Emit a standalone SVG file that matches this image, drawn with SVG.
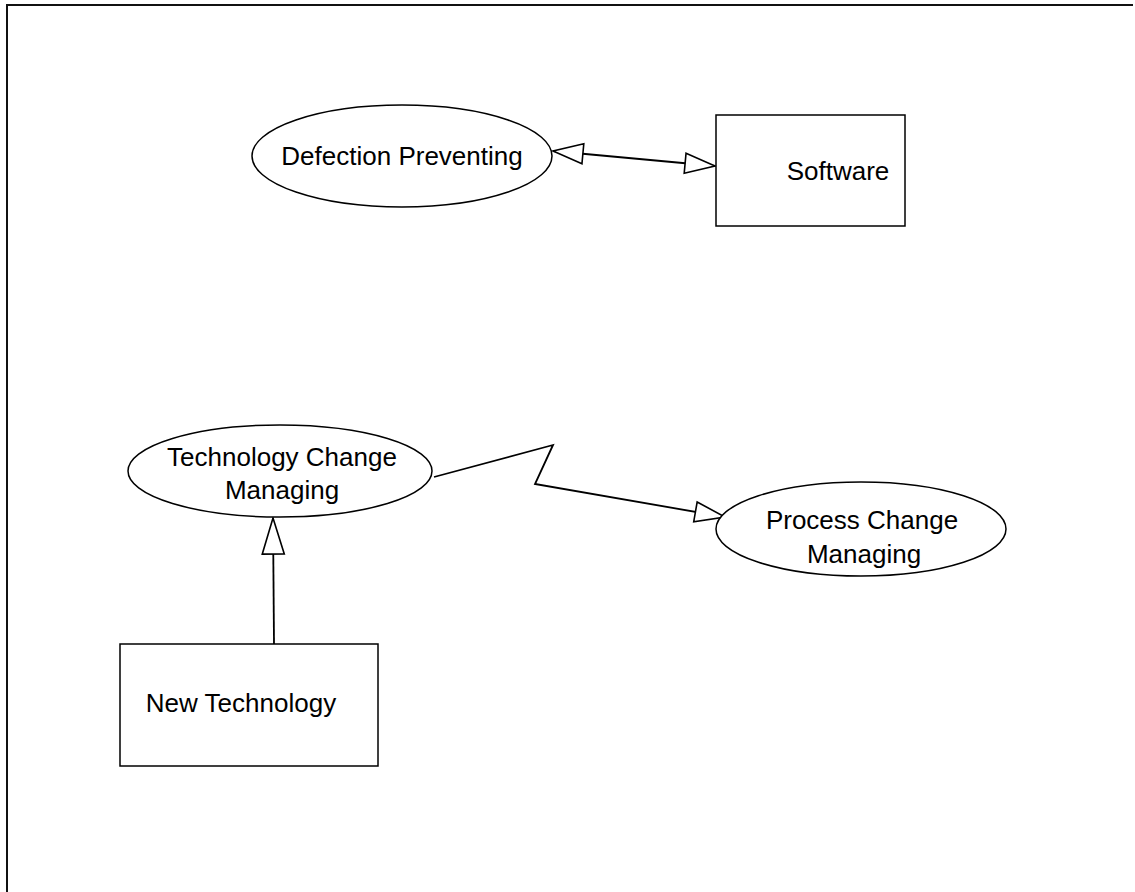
<svg xmlns="http://www.w3.org/2000/svg" width="1135" height="892" viewBox="0 0 1135 892">
<style>
.shape{fill:#fff;stroke:#000;stroke-width:1.5}
.lbl{font-family:"Liberation Sans",Arial,sans-serif;font-size:26px;fill:#000;text-anchor:middle}
.conn{fill:none;stroke:#000;stroke-width:1.8}
.frame{stroke:#111;stroke-width:2;fill:none}
</style>
<defs>
<marker id="tri" viewBox="0 0 32 22" refX="31" refY="11" markerWidth="32" markerHeight="22" markerUnits="userSpaceOnUse" orient="auto-start-reverse" overflow="visible">
<path d="M1,1 L31,11 L1,21 Z" fill="#fff" stroke="#000" stroke-width="1.6"/>
</marker>
<marker id="triTall" viewBox="0 0 38 24" refX="37" refY="12" markerWidth="38" markerHeight="24" markerUnits="userSpaceOnUse" orient="auto" overflow="visible">
<path d="M1,1 L37,12 L1,23 Z" fill="#fff" stroke="#000" stroke-width="1.6"/>
</marker>
</defs>
<rect width="1135" height="892" fill="#fff"/>
<path class="frame" d="M7,892 L7,5 L1133,5"/>
<g id="connectors">
<line id="c1" class="conn" x1="553" y1="151" x2="715" y2="166" stroke-width="2.2" marker-start="url(#tri)" marker-end="url(#tri)"/>
<polyline id="c2" class="conn" points="434,477 553,445 535,484 725,517" marker-end="url(#tri)"/>
<line id="c3" class="conn" x1="274" y1="644" x2="273" y2="518" marker-end="url(#triTall)"/>
</g>
<g id="defection-preventing">
<ellipse class="shape" cx="402" cy="156" rx="150" ry="51"/>
<text class="lbl" x="402" y="165">Defection Preventing</text>
</g>
<g id="software">
<rect class="shape" x="716" y="115" width="189" height="111"/>
<text class="lbl" x="838" y="180">Software</text>
</g>
<g id="technology-change-managing">
<ellipse class="shape" cx="280" cy="471" rx="152" ry="46"/>
<text class="lbl" x="282" y="466">Technology Change</text>
<text class="lbl" x="282" y="499">Managing</text>
</g>
<g id="process-change-managing">
<ellipse class="shape" cx="861" cy="529" rx="145" ry="47"/>
<text class="lbl" x="862" y="529">Process Change</text>
<text class="lbl" x="864" y="563">Managing</text>
</g>
<g id="new-technology">
<rect class="shape" x="120" y="644" width="258" height="122"/>
<text class="lbl" x="241" y="712">New Technology</text>
</g>
</svg>
